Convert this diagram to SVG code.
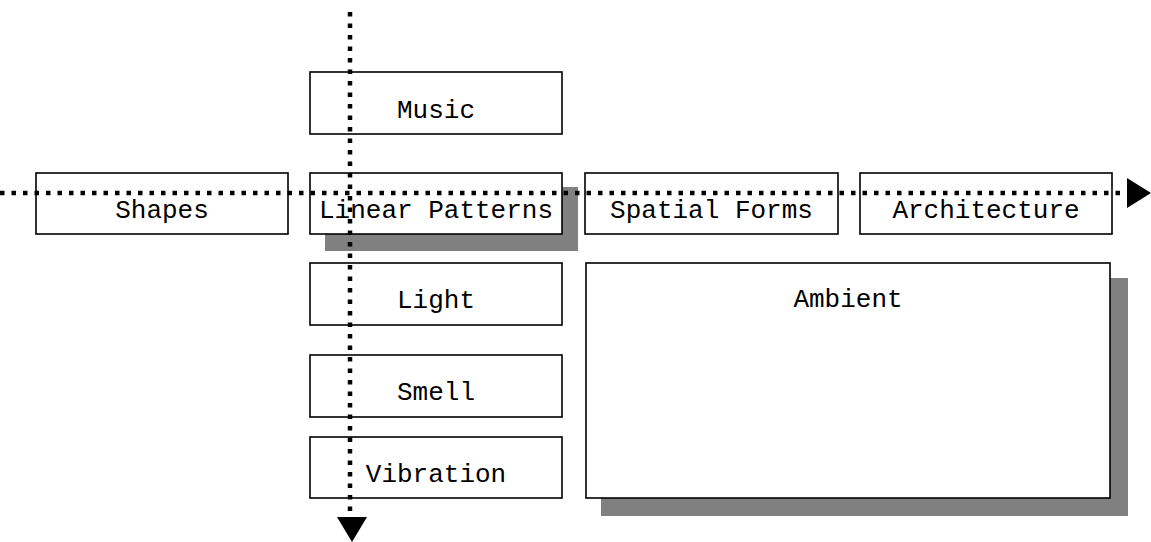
<svg xmlns="http://www.w3.org/2000/svg" width="1151" height="542" viewBox="0 0 1151 542">
<style>
.box{fill:#fff;stroke:#000;stroke-width:1.6}
.shadow{fill:#808080;stroke:none}
.lbl{font-family:"Liberation Mono","Courier New",monospace;font-size:26px;fill:#000;text-anchor:middle}
.axis{fill:none;stroke:#000;stroke-width:4.5;stroke-dasharray:4.5 7}
.head{fill:#000;stroke:none}
</style>
<rect width="1151" height="542" fill="#fff"/>
<g id="node-shapes">
<rect class="box" x="36" y="173" width="252" height="61"/>
<text class="lbl" x="162" y="218">Shapes</text>
</g>
<g id="node-music">
<rect class="box" x="310" y="72" width="252" height="62"/>
<text class="lbl" x="436" y="118">Music</text>
</g>
<g id="node-linear-patterns">
<rect class="shadow" x="325" y="187" width="253" height="64"/>
<rect class="box" x="310" y="173" width="252" height="61"/>
<text class="lbl" x="436" y="218">Linear Patterns</text>
</g>
<g id="node-spatial-forms">
<rect class="box" x="585" y="173" width="253" height="61"/>
<text class="lbl" x="711.5" y="218">Spatial Forms</text>
</g>
<g id="node-architecture">
<rect class="box" x="860" y="173" width="252" height="61"/>
<text class="lbl" x="986" y="218">Architecture</text>
</g>
<g id="node-light">
<rect class="box" x="310" y="263" width="252" height="62"/>
<text class="lbl" x="436" y="308">Light</text>
</g>
<g id="node-smell">
<rect class="box" x="310" y="355" width="252" height="62"/>
<text class="lbl" x="436" y="400">Smell</text>
</g>
<g id="node-vibration">
<rect class="box" x="310" y="437" width="252" height="61"/>
<text class="lbl" x="436" y="482">Vibration</text>
</g>
<g id="node-ambient">
<rect class="shadow" x="601" y="278" width="527" height="238"/>
<rect class="box" x="586" y="263" width="524" height="235"/>
<text class="lbl" x="848" y="307">Ambient</text>
</g>
<g id="connectors">
<line class="axis" x1="0" y1="193" x2="1127" y2="193"/>
<polygon class="head" points="1127,178 1127,208 1151,193"/>
<line class="axis" x1="350" y1="12" x2="350" y2="517"/>
<polygon class="head" points="337,517 367,517 352,542"/>
</g>
</svg>
